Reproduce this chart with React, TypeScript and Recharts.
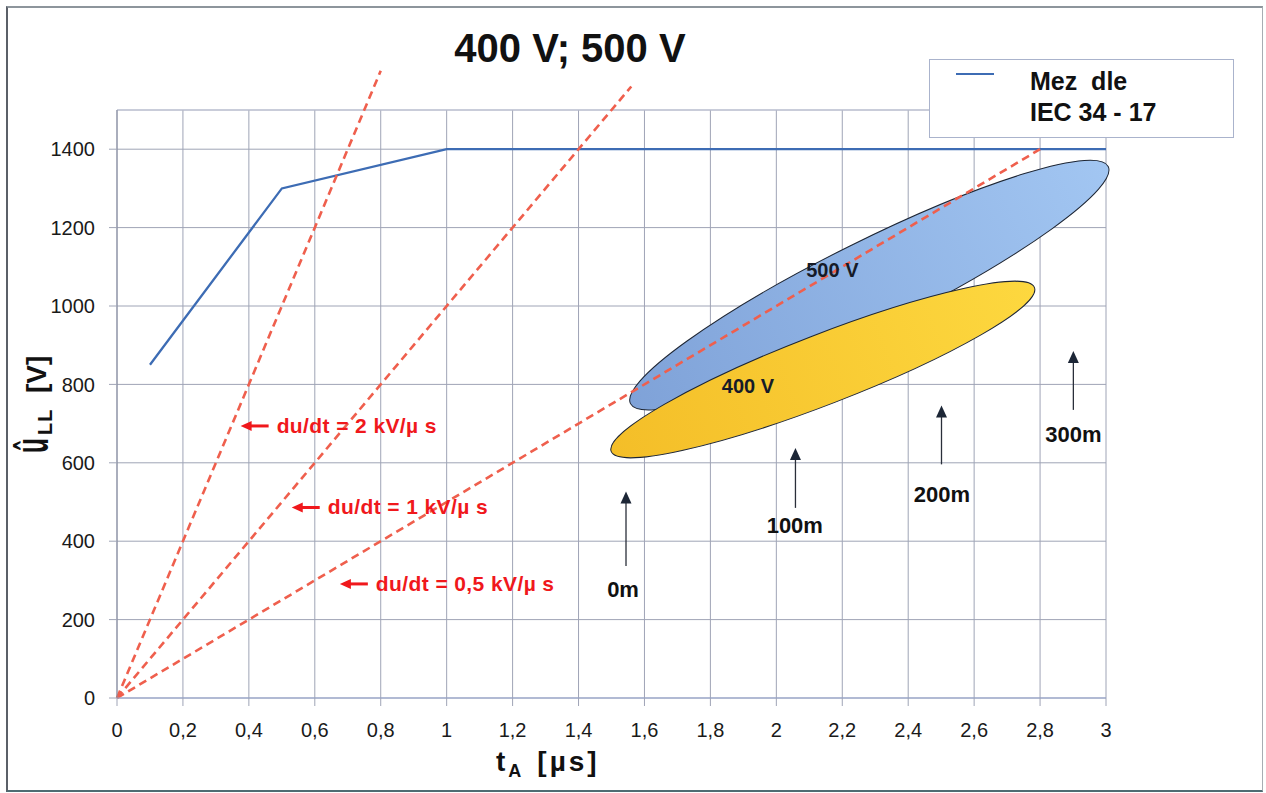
import React from 'react';
import {
  ComposedChart,
  Line,
  XAxis,
  YAxis,
  CartesianGrid,
  ReferenceLine,
  ReferenceArea,
  ReferenceDot,
  Legend,
} from 'recharts';

const FONT = '"Liberation Sans", Arial, Helvetica, sans-serif';

// ---- limit curve (IEC 34-17) ----
const limitT = [0.1, 0.5, 1.0, 3.0];
const limitU = [850, 1300, 1400, 1400];
const limitName = 'Mez  dle\nIEC 34 - 17';

// ---- axes ----
const xTicks = [0, 0.2, 0.4, 0.6, 0.8, 1, 1.2, 1.4, 1.6, 1.8, 2, 2.2, 2.4, 2.6, 2.8, 3];
const yTicks = [0, 200, 400, 600, 800, 1000, 1200, 1400];
const xDomain = [0, 3];
const yDomain = [0, 1500];
const chartTitle = '400 V; 500 V';

// ---- du/dt rays from origin ----
const rayEndT = [0.8, 1.56, 2.8];
const rayEndU = [1600, 1560, 1400];
const rayLabels = ['du/dt = 2 kV/µ s', 'du/dt = 1 kV/µ s', 'du/dt = 0,5 kV/µ s'];
const rayLabelT = [0.375, 0.53, 0.676];
const rayLabelU = [694, 486, 291];

// ---- voltage regions (ellipses: major-axis ends + aspect) ----
const ellipseNames = ['500 V', '400 V'];
const ellipseStartT = [1.5575, 1.499];
const ellipseStartU = [751, 629];
const ellipseEndT = [3.0067, 2.783];
const ellipseEndU = [1356, 1047];
const ellipseAspect = [0.1635, 0.154];
const ellipseLabelT = [2.17, 1.914];
const ellipseLabelU = [1092, 796];

// ---- cable length arrows ----
const cableLabels = ['0m', '100m', '200m', '300m'];
const cableT = [1.544, 2.058, 2.501, 2.901];
const cableTopU = [527, 638, 746, 885];
const cableBottomU = [337, 485, 596, 735];
const cableLabelT = [1.535, 2.056, 2.502, 2.901];
const cableLabelU = [279, 440, 519, 672];

const limitData = limitT.map((t, i) => ({ t, u: limitU[i] }));

const GRID = '#9fa4b6';
const RED = '#f0181c';
const RAY = '#ef5f4d';

const ellipseFills = [
  ['#7fa2d8', '#a2c6f2'],
  ['#f4be28', '#fdd83f'],
];

const makeEllipseShape = (idx: number) => (props: any) => {
  const { x, y, width, height } = props;
  const cx = x + width / 2;
  const cy = y + height / 2;
  const a = Math.hypot(width, height) / 2;
  const b = a * ellipseAspect[idx];
  const ang = (-Math.atan2(height, width) * 180) / Math.PI;
  const gid = `ellGrad${idx}`;
  return (
    <g>
      <defs>
        <linearGradient id={gid} x1="0" y1="0" x2="1" y2="0">
          <stop offset="0%" stopColor={ellipseFills[idx][0]} />
          <stop offset="100%" stopColor={ellipseFills[idx][1]} />
        </linearGradient>
      </defs>
      <ellipse
        cx={cx}
        cy={cy}
        rx={a}
        ry={b}
        transform={`rotate(${ang} ${cx} ${cy})`}
        fill={`url(#${gid})`}
        stroke="#1d2533"
        strokeWidth={1}
      />
    </g>
  );
};

const ArrowShape = (props: any) => {
  const { x1, y1, y2 } = props;
  const top = Math.min(y1, y2);
  const bottom = Math.max(y1, y2);
  const x = x1;
  return (
    <g>
      <line x1={x} y1={bottom} x2={x} y2={top + 10} stroke="#2a2f3a" strokeWidth={1.3} />
      <polygon points={`${x},${top} ${x - 5.5},${top + 12} ${x + 5.5},${top + 12}`} fill="#1c2636" />
    </g>
  );
};

const makeRayLabel = (text: string) => (props: any) => {
  const { cx, cy } = props;
  return (
    <g>
      <polygon points={`${cx},${cy} ${cx + 11},${cy - 5} ${cx + 11},${cy + 5}`} fill={RED} />
      <rect x={cx + 10} y={cy - 1.5} width={18} height={3} fill={RED} />
      <text
        x={cx + 36}
        y={cy + 7}
        fill={RED}
        fontSize={21}
        fontWeight="bold"
        fontFamily={FONT}
        letterSpacing={0.4}
      >
        {text}
      </text>
    </g>
  );
};

const makeTextDot = (text: string, size: number, color: string) => (props: any) => {
  const { cx, cy } = props;
  return (
    <text
      x={cx}
      y={cy + size * 0.36}
      textAnchor="middle"
      fill={color}
      fontSize={size}
      fontWeight="bold"
      fontFamily={FONT}
    >
      {text}
    </text>
  );
};

const XTitle = (props: any) => {
  const vb = props.viewBox || { x: 0, y: 0 };
  const x0 = vb.x + 379;
  const base = vb.y + 73;
  return (
    <text x={x0} y={base} fontFamily={FONT} fontWeight="bold" fill="#111" fontSize={28}>
      t
      <tspan fontSize={18} dy={6} dx={3}>A</tspan>
      <tspan dy={-6} dx={16} letterSpacing={3}>[µs]</tspan>
    </text>
  );
};

const YTitle = (props: any) => {
  const vb = props.viewBox || { x: 0, y: 0, height: 0 };
  const bx = vb.x - 9;
  const midY = vb.y + vb.height / 2;
  return (
    <g fontFamily={FONT} fontWeight="bold" fill="#111">
      <text transform={`translate(${bx} ${midY + 49}) rotate(-90) scale(0.52 1)`} fontSize={47}>
        û
      </text>
      <text transform={`translate(${bx + 4} ${midY + 31}) rotate(-90)`} fontSize={20} letterSpacing={1}>
        LL
      </text>
      <text transform={`translate(${bx - 2} ${midY - 11}) rotate(-90)`} fontSize={28}>
        [V]
      </text>
    </g>
  );
};

const LegendBox = (props: any) => {
  const item = (props.payload && props.payload[0]) || { value: limitName, color: '#3d6cb4' };
  return (
    <div
      style={{
        position: 'relative',
        width: 305,
        height: 79,
        boxSizing: 'border-box',
        border: '1px solid #aab3cc',
        background: '#fff',
        fontFamily: FONT,
      }}
    >
      <div
        style={{
          position: 'absolute',
          left: 26,
          top: 13,
          width: 38,
          height: 2,
          background: item.color,
        }}
      />
      <div
        style={{
          position: 'absolute',
          left: 100,
          top: 6,
          fontSize: 25,
          lineHeight: '31px',
          fontWeight: 'bold',
          color: '#111',
          whiteSpace: 'pre',
        }}
      >
        {item.value}
      </div>
    </div>
  );
};

const fmtX = (v: number) => String(v).replace('.', ',');

export default function App() {
  return (
    <div
      style={{
        position: 'absolute',
        left: 0,
        top: 0,
        width: 1266,
        height: 793,
        background: '#fff',
        fontFamily: FONT,
        overflow: 'hidden',
      }}
    >
      <div
        style={{
          position: 'absolute',
          left: 6,
          top: 6,
          width: 1257,
          height: 786,
          boxSizing: 'border-box',
          borderTop: '2px solid #8d959c',
          borderLeft: '2px solid #5b6068',
          borderBottom: '2px solid #4f6b72',
          borderRight: '1px solid #a7adb3',
        }}
      />
      <div
        style={{
          position: 'absolute',
          left: 370,
          top: 28,
          width: 400,
          textAlign: 'center',
          fontSize: 40,
          lineHeight: '40px',
          fontWeight: 'bold',
          color: '#111',
          fontFamily: FONT,
        }}
      >
        {chartTitle}
      </div>
      <ComposedChart
        width={1266}
        height={793}
        data={limitData}
        margin={{ top: 110, right: 160, bottom: 65, left: 57 }}
        style={{ position: 'absolute', left: 0, top: 0 }}
      >
        <CartesianGrid stroke={GRID} strokeWidth={1} />
        <XAxis
          type="number"
          dataKey="t"
          domain={xDomain}
          ticks={xTicks}
          interval={0}
          tickFormatter={fmtX}
          tickSize={8}
          tickMargin={17}
          axisLine={{ stroke: '#93a3cc' }}
          tickLine={{ stroke: GRID }}
          tick={{ fill: '#1a1a1a', fontSize: 20, fontFamily: FONT }}
          label={<XTitle />}
        />
        <YAxis
          type="number"
          domain={yDomain}
          ticks={yTicks}
          interval={0}
          width={60}
          tickSize={8}
          tickMargin={14}
          axisLine={{ stroke: '#858b9e' }}
          tickLine={{ stroke: GRID }}
          tick={{ fill: '#1a1a1a', fontSize: 20, fontFamily: FONT }}
          label={<YTitle />}
        />
        {ellipseNames.map((n, i) => (
          <ReferenceArea
            key={n}
            x1={ellipseStartT[i]}
            x2={ellipseEndT[i]}
            y1={ellipseStartU[i]}
            y2={ellipseEndU[i]}
            ifOverflow="visible"
            shape={makeEllipseShape(i)}
          />
        ))}
        <ReferenceLine y={yDomain[1]} stroke="#c3c8d8" ifOverflow="visible" />
        <Line
          type="linear"
          dataKey="u"
          name={limitName}
          stroke="#3d6cb4"
          strokeWidth={2.3}
          dot={false}
          activeDot={false}
          isAnimationActive={false}
        />
        {rayEndT.map((t, i) => (
          <ReferenceLine
            key={`ray${i}`}
            segment={[
              { x: 0, y: 0 },
              { x: t, y: rayEndU[i] },
            ]}
            stroke={RAY}
            strokeWidth={2.6}
            strokeDasharray="8 5"
            ifOverflow="visible"
          />
        ))}
        {cableLabels.map((l, i) => (
          <ReferenceLine
            key={`arr${l}`}
            segment={[
              { x: cableT[i], y: cableBottomU[i] },
              { x: cableT[i], y: cableTopU[i] },
            ]}
            ifOverflow="visible"
            shape={ArrowShape}
          />
        ))}
        {ellipseNames.map((n, i) => (
          <ReferenceDot
            key={`el${n}`}
            x={ellipseLabelT[i]}
            y={ellipseLabelU[i]}
            r={0}
            ifOverflow="visible"
            shape={makeTextDot(n, 20, '#161b28')}
          />
        ))}
        {cableLabels.map((l, i) => (
          <ReferenceDot
            key={`cl${l}`}
            x={cableLabelT[i]}
            y={cableLabelU[i]}
            r={0}
            ifOverflow="visible"
            shape={makeTextDot(l, 22, '#111')}
          />
        ))}
        {rayLabels.map((l, i) => (
          <ReferenceDot
            key={`rl${i}`}
            x={rayLabelT[i]}
            y={rayLabelU[i]}
            r={0}
            ifOverflow="visible"
            shape={makeRayLabel(l)}
          />
        ))}
        <Legend
          layout="horizontal"
          verticalAlign="middle"
          align="center"
          content={<LegendBox />}
          wrapperStyle={{ left: 929, top: 59, width: 305, height: 79 }}
        />
      </ComposedChart>
    </div>
  );
}
